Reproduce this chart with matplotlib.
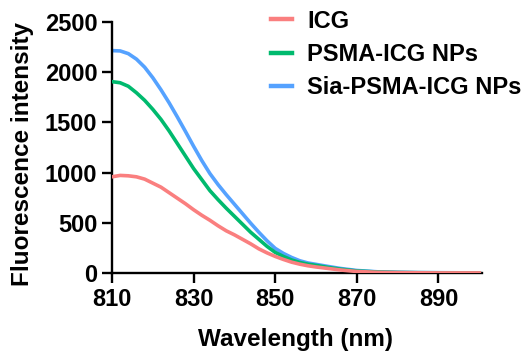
import matplotlib.pyplot as plt

plt.rcParams['font.family'] = ['Liberation Sans', 'DejaVu Sans']
plt.rcParams['font.weight'] = 'bold'

wavelength = [810, 812, 814, 816, 818, 820, 822, 824, 826, 828, 830, 832, 834, 836,
              838, 840, 842, 844, 846, 848, 850, 852, 854, 856, 858, 860, 863, 866,
              870, 875, 880, 885, 890, 895, 900]
icg = [958, 972, 968, 958, 935, 895, 855, 800, 745, 690, 630, 575, 525, 470,
       420, 380, 335, 290, 240, 200, 165, 135, 108, 88, 72, 60, 45, 30,
       15, 7, 4, 2, 1, 1, 1]
psma = [1906, 1895, 1860, 1795, 1720, 1630, 1530, 1415, 1290, 1165, 1040, 930, 820, 730,
        645, 565, 485, 405, 335, 265, 205, 165, 130, 105, 88, 76, 55, 38,
        20, 10, 5, 3, 2, 1, 1]
sia = [2215, 2212, 2185, 2130, 2050, 1945, 1825, 1695, 1555, 1410, 1262, 1120, 990, 880,
       780, 685, 590, 495, 405, 320, 245, 195, 155, 122, 100, 86, 65, 45,
       25, 12, 7, 4, 3, 2, 2]

names = ['ICG', 'PSMA-ICG NPs', 'Sia-PSMA-ICG NPs']
colors = ['#FA7F7F', '#00BA6E', '#55A2FF']

fig = plt.figure(figsize=(5.29, 3.55), dpi=100)
ax = fig.add_axes([0.2117, 0.231, 0.699, 0.707])

ax.plot(wavelength, icg, color=colors[0], lw=2.6, label=names[0], zorder=4)
ax.plot(wavelength, psma, color=colors[1], lw=2.6, label=names[1], zorder=3)
ax.plot(wavelength, sia, color=colors[2], lw=2.6, label=names[2], zorder=2)

ax.set_xlim(810, 900.6)
ax.set_ylim(0, 2500)
ax.set_xticks([810, 830, 850, 870, 890])
ax.set_yticks([0, 500, 1000, 1500, 2000, 2500])

for s in ['top', 'right']:
    ax.spines[s].set_visible(False)
for s in ['left', 'bottom']:
    ax.spines[s].set_linewidth(1.7)
    ax.spines[s].set_capstyle('projecting')
ax.tick_params(width=1.7, length=7.5, labelsize=17, pad=3)
for lab in ax.get_xticklabels() + ax.get_yticklabels():
    lab.set_fontweight('bold')

ax.set_xlabel('Wavelength (nm)', fontsize=17.5, fontweight='bold')
ax.set_ylabel('Fluorescence intensity', fontsize=17.5, fontweight='bold')
ax.xaxis.set_label_coords(0.497, -0.219)
ax.yaxis.set_label_coords(-0.211, 0.474)

leg = ax.legend(loc='upper left', bbox_to_anchor=(0.405, 1.087), frameon=False,
                fontsize=17, handlelength=0.9, handletextpad=0.62, labelspacing=0.43,
                borderaxespad=0)
for t in leg.get_texts():
    t.set_fontweight('bold')
for l in leg.get_lines():
    l.set_linewidth(3.2)

fig.savefig('out.png', dpi=100)
